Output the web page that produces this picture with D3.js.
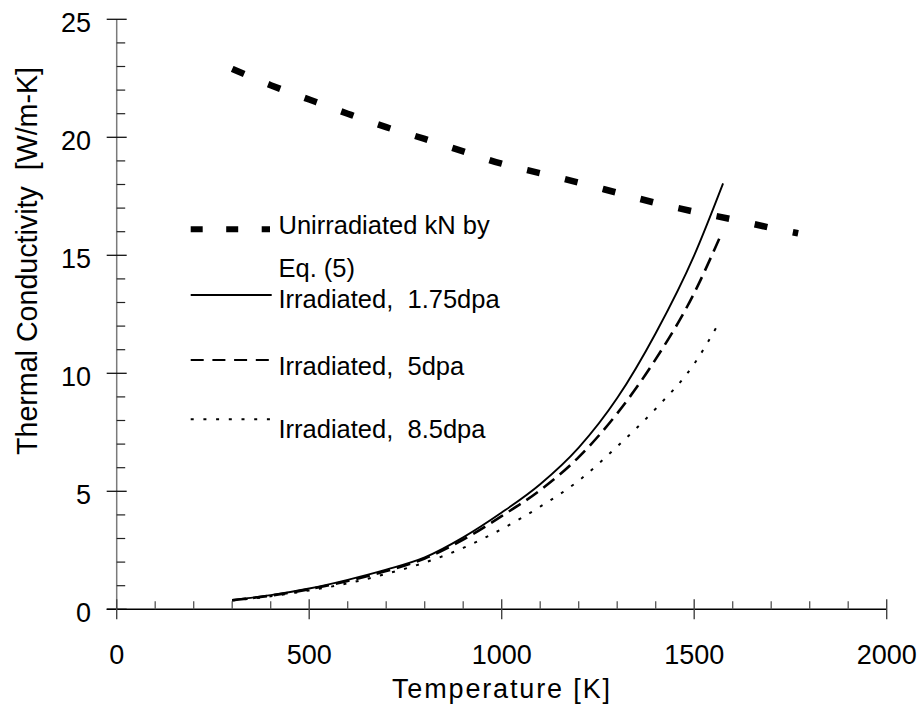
<!DOCTYPE html>
<html>
<head>
<meta charset="utf-8">
<script src="https://cdn.jsdelivr.net/npm/d3@7"></script>
<style>
  body { margin: 0; background: #fff; }
  svg { display: block; }
  text { font-family: "Liberation Sans", Arial, sans-serif; fill: #000; }
</style>
</head>
<body>
<div id="chart"></div>
<script>
// tick values
const xTicks = [0, 500, 1000, 1500, 2000];
const yTicks = [0, 5, 10, 15, 20, 25];

// Unirradiated kN by Eq. (5)
const unirrT = [300, 400, 500, 600, 700, 800, 900, 1000, 1100, 1200, 1300, 1400, 1500, 1600, 1700, 1770];
const unirrK = [22.9, 22.21, 21.6, 21.0, 20.43, 19.93, 19.4, 18.88, 18.48, 18.08, 17.65, 17.22, 16.85, 16.52, 16.16, 15.93];

// Irradiated, 1.75dpa
const irr175T = [300, 400, 500, 600, 700, 800, 900, 1000, 1100, 1200, 1300, 1400, 1500, 1575];
const irr175K = [0.4, 0.6, 0.88, 1.25, 1.68, 2.2, 3.05, 4.1, 5.3, 6.85, 8.95, 11.7, 15.0, 18.05];

// Irradiated, 5dpa
const irr5T = [300, 400, 500, 600, 700, 800, 900, 1000, 1100, 1200, 1300, 1400, 1500, 1565];
const irr5K = [0.38, 0.58, 0.85, 1.2, 1.62, 2.15, 2.95, 3.95, 5.05, 6.45, 8.3, 10.6, 13.4, 15.7];

// Irradiated, 8.5dpa
const irr85T = [300, 400, 500, 600, 700, 800, 900, 1000, 1100, 1200, 1300, 1400, 1500, 1563];
const irr85K = [0.37, 0.55, 0.8, 1.1, 1.5, 1.98, 2.6, 3.4, 4.35, 5.45, 6.9, 8.5, 10.4, 12.1];

const width = 923, height = 708;

const svg = d3.select("#chart")
    .append("svg")
    .attr("width", width)
    .attr("height", height);

const x = d3.scaleLinear().domain([0, 2000]).range([116.7, 886.7]);
const y = d3.scaleLinear().domain([0, 25]).range([609.3, 19.3]);

// Y axis line
svg.append("line")
    .attr("x1", x(0)).attr("x2", x(0))
    .attr("y1", y(25)).attr("y2", y(0))
    .attr("stroke", "#7a7a7a")
    .attr("stroke-width", 1.5);

// Y minor ticks (inward only)
svg.append("g").selectAll("line")
    .data(d3.range(0, 26, 1).filter(v => v % 5 !== 0))
    .join("line")
    .attr("x1", x(0)).attr("x2", x(0) + 8.5)
    .attr("y1", d => y(d)).attr("y2", d => y(d))
    .attr("stroke", "#222")
    .attr("stroke-width", 1.2);

// Y major ticks (cross the axis)
svg.append("g").selectAll("line")
    .data(yTicks)
    .join("line")
    .attr("x1", x(0) - 10).attr("x2", x(0) + 10)
    .attr("y1", d => y(d)).attr("y2", d => y(d))
    .attr("stroke", "#111")
    .attr("stroke-width", 1.3);

// X axis line
svg.append("line")
    .attr("x1", x(0) - 10).attr("x2", x(2000))
    .attr("y1", y(0)).attr("y2", y(0))
    .attr("stroke", "#000")
    .attr("stroke-width", 1.5);

// X minor ticks (upward only)
svg.append("g").selectAll("line")
    .data(d3.range(0, 2001, 100).filter(v => v % 500 !== 0))
    .join("line")
    .attr("x1", d => x(d)).attr("x2", d => x(d))
    .attr("y1", y(0) - 8).attr("y2", y(0))
    .attr("stroke", "#555")
    .attr("stroke-width", 1.3);

// X major ticks (cross the axis)
svg.append("g").selectAll("line")
    .data(xTicks)
    .join("line")
    .attr("x1", d => x(d)).attr("x2", d => x(d))
    .attr("y1", y(0) - 10).attr("y2", y(0) + 10)
    .attr("stroke", "#444")
    .attr("stroke-width", 1.4);

// tick labels
svg.append("g").selectAll("text")
    .data(yTicks)
    .join("text")
    .attr("x", 91)
    .attr("y", d => y(d) + 12.5)
    .attr("text-anchor", "end")
    .style("font-size", "27px")
    .text(d => d);

svg.append("g").selectAll("text")
    .data(xTicks)
    .join("text")
    .attr("x", d => x(d))
    .attr("y", 664)
    .attr("text-anchor", "middle")
    .style("font-size", "27px")
    .text(d => d);

// axis titles
svg.append("text")
    .attr("x", 501)
    .attr("y", 698)
    .attr("text-anchor", "middle")
    .attr("textLength", 218)
    .attr("lengthAdjust", "spacing")
    .style("font-size", "27px")
    .text("Temperature [K]");

svg.append("text")
    .attr("transform", "translate(37,261) rotate(-90)")
    .attr("text-anchor", "middle")
    .attr("textLength", 388)
    .attr("lengthAdjust", "spacingAndGlyphs")
    .style("font-size", "29px")
    .style("white-space", "pre")
    .text("Thermal Conductivity  [W/m-K]");

// series
const series = [
    { label: ["Unirradiated kN by", "Eq. (5)"], T: unirrT, K: unirrK, width: 6.5, dash: "13,26" },
    { label: ["Irradiated,  1.75dpa"], T: irr175T, K: irr175K, width: 1.9, dash: null },
    { label: ["Irradiated,  5dpa"], T: irr5T, K: irr5K, width: 2.6, dash: "14,7" },
    { label: ["Irradiated,  8.5dpa"], T: irr85T, K: irr85K, width: 2, dash: "3,9.5" }
];

const line = d3.line()
    .curve(d3.curveMonotoneX)
    .x(d => x(d[0]))
    .y(d => y(d[1]));

series.forEach(s => {
    svg.append("path")
        .datum(s.T.map((t, i) => [t, s.K[i]]))
        .attr("d", line)
        .attr("fill", "none")
        .attr("stroke", "#000")
        .attr("stroke-width", s.width)
        .attr("stroke-dasharray", s.dash)
        .attr("stroke-linecap", "butt");
});

// legend
const legendLineY = [229.3, 295, 360, 419.3];
const legendTextY = [234, 308.3, 375, 438.3];
const legend = svg.append("g");

series.forEach((s, i) => {
    legend.append("line")
        .attr("x1", 190.7)
        .attr("x2", i === 0 ? 270 : 271.7)
        .attr("y1", legendLineY[i])
        .attr("y2", legendLineY[i])
        .attr("stroke", "#000")
        .attr("stroke-width", i === 0 ? 6 : (i === 2 ? 2 : 1.9))
        .attr("stroke-dasharray", i === 0 ? "12,23.5" : (i === 2 ? "13,8.7" : (i === 3 ? "3,9.7" : null)));

    s.label.forEach((txt, j) => {
        legend.append("text")
            .attr("x", 278.5)
            .attr("y", legendTextY[i] + j * 42.5)
            .style("font-size", "25.5px")
            .style("white-space", "pre")
            .text(txt);
    });
});
</script>
</body>
</html>
